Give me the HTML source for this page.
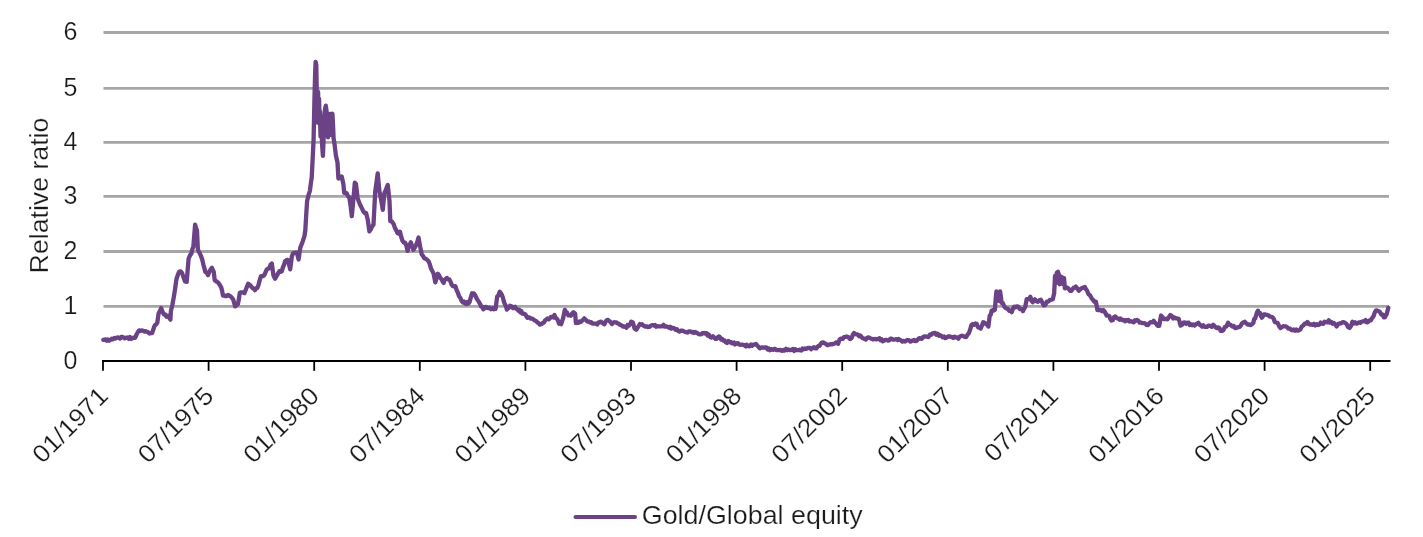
<!DOCTYPE html>
<html><head><meta charset="utf-8"><style>
html,body{margin:0;padding:0;background:#fff;}
body{width:1423px;height:537px;overflow:hidden;}
svg{display:block;}
.t{font-family:"Liberation Sans",Arial,sans-serif;font-size:25px;fill:#1a1a1a;stroke:#fff;stroke-width:0.22px;paint-order:fill;}
</style></head><body>
<svg width="1423" height="537" viewBox="0 0 1423 537">
<rect width="1423" height="537" fill="#fff"/>
<line x1="103.5" y1="306.40" x2="1389" y2="306.40" stroke="#a6a6a6" stroke-width="2.8"/>
<line x1="103.5" y1="251.50" x2="1389" y2="251.50" stroke="#a6a6a6" stroke-width="2.8"/>
<line x1="103.5" y1="196.40" x2="1389" y2="196.40" stroke="#a6a6a6" stroke-width="2.8"/>
<line x1="103.5" y1="142.40" x2="1389" y2="142.40" stroke="#a6a6a6" stroke-width="2.8"/>
<line x1="103.5" y1="88.30" x2="1389" y2="88.30" stroke="#a6a6a6" stroke-width="2.8"/>
<line x1="103.5" y1="32.50" x2="1389" y2="32.50" stroke="#a6a6a6" stroke-width="2.8"/>
<text x="77.5" y="368.60" text-anchor="end" class="t">0</text>
<text x="77.5" y="314.00" text-anchor="end" class="t">1</text>
<text x="77.5" y="259.10" text-anchor="end" class="t">2</text>
<text x="77.5" y="204.00" text-anchor="end" class="t">3</text>
<text x="77.5" y="150.00" text-anchor="end" class="t">4</text>
<text x="77.5" y="95.90" text-anchor="end" class="t">5</text>
<text x="77.5" y="40.10" text-anchor="end" class="t">6</text>
<line x1="102" y1="361.00" x2="1390.5" y2="361.00" stroke="#000" stroke-width="2.2"/>
<line x1="103.00" y1="361.00" x2="103.00" y2="370.8" stroke="#000" stroke-width="1.8"/>
<line x1="208.60" y1="361.00" x2="208.60" y2="370.8" stroke="#000" stroke-width="1.8"/>
<line x1="314.20" y1="361.00" x2="314.20" y2="370.8" stroke="#000" stroke-width="1.8"/>
<line x1="419.80" y1="361.00" x2="419.80" y2="370.8" stroke="#000" stroke-width="1.8"/>
<line x1="525.40" y1="361.00" x2="525.40" y2="370.8" stroke="#000" stroke-width="1.8"/>
<line x1="631.00" y1="361.00" x2="631.00" y2="370.8" stroke="#000" stroke-width="1.8"/>
<line x1="736.60" y1="361.00" x2="736.60" y2="370.8" stroke="#000" stroke-width="1.8"/>
<line x1="842.20" y1="361.00" x2="842.20" y2="370.8" stroke="#000" stroke-width="1.8"/>
<line x1="947.80" y1="361.00" x2="947.80" y2="370.8" stroke="#000" stroke-width="1.8"/>
<line x1="1053.40" y1="361.00" x2="1053.40" y2="370.8" stroke="#000" stroke-width="1.8"/>
<line x1="1159.00" y1="361.00" x2="1159.00" y2="370.8" stroke="#000" stroke-width="1.8"/>
<line x1="1264.60" y1="361.00" x2="1264.60" y2="370.8" stroke="#000" stroke-width="1.8"/>
<line x1="1370.20" y1="361.00" x2="1370.20" y2="370.8" stroke="#000" stroke-width="1.8"/>
<text x="0" y="0" text-anchor="end" class="t" transform="translate(109.50 397.50) rotate(-45) scale(1.05 1)">01/1971</text>
<text x="0" y="0" text-anchor="end" class="t" transform="translate(215.10 397.50) rotate(-45) scale(1.05 1)">07/1975</text>
<text x="0" y="0" text-anchor="end" class="t" transform="translate(320.70 397.50) rotate(-45) scale(1.05 1)">01/1980</text>
<text x="0" y="0" text-anchor="end" class="t" transform="translate(426.30 397.50) rotate(-45) scale(1.05 1)">07/1984</text>
<text x="0" y="0" text-anchor="end" class="t" transform="translate(531.90 397.50) rotate(-45) scale(1.05 1)">01/1989</text>
<text x="0" y="0" text-anchor="end" class="t" transform="translate(637.50 397.50) rotate(-45) scale(1.05 1)">07/1993</text>
<text x="0" y="0" text-anchor="end" class="t" transform="translate(743.10 397.50) rotate(-45) scale(1.05 1)">01/1998</text>
<text x="0" y="0" text-anchor="end" class="t" transform="translate(848.70 397.50) rotate(-45) scale(1.05 1)">07/2002</text>
<text x="0" y="0" text-anchor="end" class="t" transform="translate(954.30 397.50) rotate(-45) scale(1.05 1)">01/2007</text>
<text x="0" y="0" text-anchor="end" class="t" transform="translate(1059.90 397.50) rotate(-45) scale(1.05 1)">07/2011</text>
<text x="0" y="0" text-anchor="end" class="t" transform="translate(1165.50 397.50) rotate(-45) scale(1.05 1)">01/2016</text>
<text x="0" y="0" text-anchor="end" class="t" transform="translate(1271.10 397.50) rotate(-45) scale(1.05 1)">07/2020</text>
<text x="0" y="0" text-anchor="end" class="t" transform="translate(1376.70 397.50) rotate(-45) scale(1.05 1)">01/2025</text>
<text x="0" y="0" text-anchor="middle" class="t" transform="translate(48.2 195.5) rotate(-90) scale(1.068 1)">Relative ratio</text>
<path d="M103.3 339.9 L104.5 339.7 L105.6 339.4 L106.8 340.7 L107.9 339.5 L109.1 340.7 L110.4 339.9 L111.7 338.8 L113.0 339.4 L114.3 338.0 L115.6 338.5 L116.7 337.5 L117.9 337.3 L119.0 337.9 L120.1 338.6 L121.2 336.8 L122.4 336.9 L123.5 337.6 L124.8 338.4 L126.1 337.7 L127.4 337.5 L128.7 338.9 L130.0 337.0 L131.3 338.9 L132.6 337.8 L133.9 337.7 L135.2 337.8 L136.5 334.6 L137.8 332.2 L139.1 330.4 L140.4 330.8 L141.7 330.5 L143.0 330.6 L144.3 331.6 L145.6 331.2 L146.9 331.8 L148.2 332.3 L149.5 333.5 L150.8 333.1 L152.1 333.0 L153.1 330.3 L154.1 326.8 L155.2 324.9 L156.2 324.5 L157.3 322.7 L158.6 313.3 L159.9 311.1 L161.2 308.1 L162.5 311.8 L163.8 314.4 L165.1 314.3 L166.5 316.7 L167.8 315.7 L169.1 317.6 L170.4 319.7 L170.9 310.9 L172.3 305.2 L173.7 297.7 L175.1 288.9 L176.5 278.9 L177.9 274.7 L179.3 271.6 L180.7 271.3 L182.1 273.1 L183.5 277.1 L184.9 281.2 L186.7 281.9 L187.6 270.6 L188.6 258.8 L190.0 255.4 L191.4 253.5 L192.4 248.9 L193.3 247.0 L195.1 224.6 L196.1 228.2 L197.0 230.6 L197.9 249.8 L199.3 252.4 L200.7 255.4 L202.1 259.0 L203.5 265.1 L204.4 268.2 L205.3 271.9 L206.7 272.6 L208.1 275.1 L209.4 271.5 L210.6 269.6 L211.9 267.8 L213.7 271.6 L214.7 280.1 L215.9 281.2 L217.2 281.8 L218.4 282.8 L219.8 285.0 L221.2 287.4 L222.1 290.8 L223.0 295.7 L224.2 295.3 L225.5 296.1 L226.7 296.0 L228.0 294.9 L229.2 295.6 L230.5 296.3 L231.9 297.7 L233.3 299.7 L235.1 306.4 L236.5 305.2 L237.9 304.1 L238.9 299.0 L239.8 292.8 L241.2 292.3 L242.6 292.3 L243.5 292.6 L244.4 293.1 L245.8 289.7 L247.2 286.1 L248.2 283.7 L249.2 284.5 L250.4 285.5 L251.7 287.0 L252.8 288.2 L253.9 288.7 L255.0 290.1 L256.1 288.1 L257.3 287.9 L258.4 285.2 L259.6 280.6 L260.9 276.3 L262.0 275.9 L263.2 276.0 L264.3 275.1 L265.6 272.1 L266.8 269.4 L268.1 268.5 L269.3 268.3 L270.6 264.6 L271.8 263.5 L273.5 275.6 L275.1 278.7 L276.2 276.7 L277.4 274.7 L278.5 272.5 L279.6 271.1 L280.7 271.8 L281.8 271.3 L282.9 267.4 L284.1 264.6 L285.2 261.0 L286.4 260.2 L287.7 259.9 L288.9 263.9 L290.2 269.3 L291.9 256.1 L293.1 253.3 L294.4 252.8 L295.6 252.7 L296.9 252.7 L298.6 259.5 L300.3 247.5 L301.6 244.4 L302.8 241.2 L304.5 235.9 L305.3 230.4 L306.2 215.2 L307.1 201.1 L308.5 195.1 L309.9 190.8 L310.8 183.8 L311.7 177.8 L312.7 158.2 L313.6 139.4 L314.4 100.7 L315.2 71.1 L315.6 61.8 L316.3 64.7 L316.8 95.7 L317.2 122.5 L317.6 104.4 L318.1 92.0 L318.6 117.7 L319.1 99.0 L319.6 124.0 L320.0 111.5 L320.5 136.5 L321.4 128.4 L322.2 146.0 L322.9 155.9 L323.6 139.0 L324.3 116.1 L325.0 109.0 L325.8 105.7 L326.6 111.4 L327.3 127.4 L328.0 137.3 L328.6 121.3 L329.3 114.3 L330.0 113.9 L330.6 125.7 L331.2 135.0 L331.8 115.3 L332.4 113.7 L333.0 124.1 L333.6 138.4 L334.5 143.9 L335.9 155.6 L337.5 162.6 L338.4 178.5 L339.5 177.2 L340.6 178.0 L341.7 176.4 L343.4 184.2 L344.2 192.9 L345.4 192.5 L346.7 193.3 L348.0 196.2 L349.3 197.4 L350.9 207.9 L351.8 216.2 L353.4 199.4 L354.8 182.7 L356.0 184.2 L357.6 197.8 L358.9 201.8 L360.1 204.7 L361.8 208.1 L363.5 211.7 L364.8 212.9 L366.0 212.8 L367.7 219.2 L369.4 231.4 L371.0 229.0 L372.2 226.3 L373.5 224.7 L375.2 191.8 L376.4 183.1 L377.7 173.3 L379.4 191.3 L381.1 199.7 L382.8 209.8 L384.4 192.9 L385.5 190.9 L386.7 187.4 L387.8 185.0 L389.5 201.1 L390.3 221.2 L391.4 221.1 L392.5 222.5 L393.6 223.9 L394.9 227.9 L396.2 230.2 L397.4 233.0 L398.7 233.7 L400.0 231.8 L401.2 236.8 L402.5 240.7 L403.8 242.5 L405.1 242.7 L406.4 245.7 L407.6 250.9 L408.7 246.7 L409.8 244.5 L410.9 242.3 L412.1 246.1 L413.4 249.8 L414.7 247.7 L416.0 245.2 L417.2 242.4 L418.5 237.5 L420.2 246.9 L421.8 254.6 L422.9 255.8 L424.1 258.0 L425.2 258.5 L426.3 259.2 L427.4 260.2 L428.5 261.1 L429.8 264.3 L431.1 268.8 L432.4 271.1 L433.6 273.6 L435.3 282.4 L436.6 277.7 L437.8 273.7 L439.1 275.3 L440.3 278.0 L441.4 279.1 L442.5 281.2 L443.6 283.0 L444.7 279.8 L445.9 278.8 L447.0 278.0 L448.1 279.4 L449.2 279.5 L450.3 281.2 L451.6 284.4 L452.9 286.2 L454.1 286.5 L455.4 286.2 L456.6 290.0 L457.9 292.7 L459.1 296.3 L460.4 298.0 L461.6 300.9 L462.9 302.5 L464.0 301.6 L465.2 303.5 L466.3 304.0 L467.4 302.1 L468.5 303.4 L469.6 301.9 L470.9 297.1 L472.1 293.2 L472.6 293.5 L473.9 293.4 L475.1 295.2 L476.4 298.0 L477.7 300.1 L478.9 301.9 L480.2 304.2 L481.2 306.6 L482.3 306.6 L483.3 309.3 L484.3 308.4 L485.4 306.8 L486.4 306.8 L487.4 308.0 L488.5 308.2 L489.5 307.7 L491.0 309.3 L492.5 308.3 L493.5 309.2 L494.6 307.8 L495.6 308.7 L497.2 296.4 L498.4 295.5 L499.7 291.8 L500.7 292.9 L501.8 294.9 L502.8 297.3 L503.8 301.2 L504.8 304.1 L505.9 305.9 L506.9 309.6 L507.9 308.2 L509.0 307.7 L510.0 305.7 L511.5 306.2 L513.0 308.1 L514.0 307.5 L515.1 306.8 L516.1 308.7 L517.1 309.0 L518.2 310.4 L519.2 309.8 L520.2 312.2 L521.3 311.1 L522.3 313.6 L523.8 313.7 L525.3 314.4 L526.3 316.0 L527.4 317.8 L528.4 317.4 L529.4 317.4 L530.5 318.6 L531.5 318.3 L533.0 319.1 L534.5 320.3 L535.5 320.7 L536.6 321.7 L537.6 322.6 L538.6 323.1 L539.7 324.6 L540.7 324.1 L541.7 324.1 L542.8 322.8 L543.8 322.7 L545.0 320.4 L546.3 319.5 L547.6 318.4 L548.9 319.4 L549.9 318.3 L551.0 316.9 L552.0 316.8 L553.2 317.4 L554.5 315.0 L555.8 318.1 L557.1 318.8 L558.1 320.9 L559.1 323.7 L560.2 323.3 L561.2 324.1 L562.2 320.9 L563.2 318.0 L564.8 309.9 L565.8 311.7 L566.8 312.3 L568.4 315.4 L569.6 315.3 L570.9 315.7 L572.1 313.5 L573.4 312.2 L575.1 313.4 L575.9 323.2 L577.1 322.6 L578.4 322.8 L579.5 321.5 L580.7 322.0 L581.8 320.9 L583.0 319.9 L584.3 318.4 L585.5 319.6 L586.8 320.9 L587.9 321.7 L589.0 321.5 L590.1 322.6 L591.2 322.2 L592.4 323.7 L593.5 323.7 L594.8 323.6 L596.0 323.7 L597.2 324.5 L598.5 322.3 L599.6 322.4 L600.8 321.6 L601.9 322.4 L603.1 323.4 L604.4 324.3 L605.6 321.5 L606.9 320.1 L608.1 319.9 L609.4 321.3 L610.6 322.1 L611.9 324.1 L613.0 322.8 L614.2 322.2 L615.3 322.3 L616.4 322.4 L617.5 323.4 L618.6 323.6 L619.7 324.6 L620.9 325.0 L622.0 325.7 L623.1 326.7 L624.3 326.4 L625.4 326.9 L626.5 327.7 L627.6 325.1 L628.7 325.7 L630.0 324.3 L631.2 321.7 L632.9 322.5 L634.6 328.6 L636.2 329.7 L637.5 327.8 L638.8 325.9 L639.9 324.1 L641.0 324.7 L642.1 324.3 L643.2 325.6 L644.4 326.1 L645.5 326.7 L646.6 326.3 L647.7 327.1 L648.8 326.8 L649.8 326.7 L650.9 325.6 L652.0 325.1 L653.0 325.2 L654.0 325.7 L655.1 325.1 L656.2 326.7 L657.2 326.1 L658.6 326.3 L660.0 326.3 L661.4 326.4 L662.5 326.0 L663.5 324.9 L664.5 326.7 L665.6 326.5 L666.7 326.4 L667.9 326.9 L669.0 327.7 L670.1 326.7 L671.2 328.6 L672.3 328.0 L673.4 327.9 L674.5 328.6 L675.6 329.9 L676.8 329.2 L678.0 330.7 L679.2 331.6 L680.6 330.7 L682.0 330.6 L683.4 331.0 L684.5 331.7 L685.5 332.2 L686.5 332.2 L687.6 332.6 L688.7 331.3 L689.8 331.3 L690.8 331.5 L691.9 332.4 L693.0 331.9 L694.0 332.8 L695.0 332.0 L696.1 332.5 L697.5 333.2 L698.9 334.2 L700.3 334.4 L701.3 334.2 L702.4 333.1 L703.5 333.4 L704.5 333.0 L705.5 333.6 L706.6 333.3 L707.7 335.5 L708.7 334.5 L710.1 337.0 L711.5 337.6 L712.9 336.2 L714.2 337.7 L715.5 338.9 L716.6 338.8 L717.7 337.2 L718.8 336.4 L719.9 337.1 L721.1 339.6 L722.2 338.9 L723.3 340.5 L724.5 340.4 L725.6 342.1 L727.0 342.9 L728.4 340.9 L729.8 342.3 L730.8 342.0 L731.9 343.3 L733.0 343.2 L734.0 342.6 L735.0 344.4 L736.1 343.8 L737.2 343.1 L738.2 343.4 L739.3 344.7 L740.4 344.8 L741.4 344.7 L742.5 344.6 L743.5 345.2 L744.6 345.2 L745.7 346.4 L746.7 344.7 L748.1 346.2 L749.5 346.3 L750.9 344.6 L752.0 345.8 L753.2 344.7 L754.3 344.6 L755.9 344.0 L757.2 345.5 L758.5 346.8 L759.8 348.3 L761.0 347.6 L762.2 347.4 L763.5 347.7 L764.5 347.6 L765.6 347.3 L766.7 347.6 L767.7 349.4 L768.8 348.6 L769.9 350.3 L770.9 349.1 L772.0 349.5 L773.0 349.8 L774.1 348.9 L775.2 349.0 L776.2 350.1 L777.6 350.1 L779.0 350.1 L780.4 349.9 L781.5 350.6 L782.5 350.8 L783.5 350.0 L784.6 350.5 L786.0 348.9 L787.4 350.2 L788.8 349.5 L789.9 350.2 L791.0 350.1 L792.0 349.4 L793.1 348.9 L794.2 350.9 L795.6 349.3 L797.0 350.2 L798.4 350.1 L799.5 349.6 L800.5 350.3 L801.5 350.5 L802.6 348.6 L803.7 349.3 L804.8 348.5 L805.8 348.9 L806.9 348.5 L808.0 347.9 L809.0 347.8 L810.0 347.8 L811.1 349.2 L812.5 348.0 L813.9 347.2 L815.3 348.4 L816.3 348.4 L817.4 346.9 L818.5 346.0 L819.5 345.9 L820.8 343.8 L822.0 342.5 L823.1 342.3 L824.3 343.1 L825.4 343.6 L826.5 344.4 L827.5 345.2 L828.5 344.9 L829.6 344.3 L831.0 344.2 L832.4 344.3 L833.8 343.8 L834.9 343.4 L836.0 342.5 L837.0 342.6 L838.1 343.8 L839.4 339.9 L840.6 338.6 L841.7 338.6 L842.9 338.9 L844.0 337.2 L845.1 337.0 L846.2 336.6 L847.3 336.7 L848.4 337.2 L849.6 338.8 L850.7 339.0 L851.8 337.6 L853.0 334.3 L854.1 333.0 L855.4 334.2 L856.6 334.4 L857.9 334.7 L859.1 336.3 L860.2 335.4 L861.4 336.7 L862.5 338.2 L863.6 338.4 L864.8 338.9 L865.9 339.6 L867.0 337.9 L868.0 337.5 L869.0 337.5 L870.1 338.2 L871.5 338.7 L872.9 339.4 L874.3 339.1 L875.3 339.0 L876.4 339.4 L877.5 338.8 L878.5 339.1 L879.5 338.3 L880.6 340.3 L881.7 339.4 L882.7 341.2 L883.8 340.7 L884.9 340.1 L885.9 339.8 L887.0 340.2 L888.0 340.7 L889.1 340.5 L890.2 338.9 L891.2 338.6 L892.6 339.6 L894.0 339.7 L895.4 339.3 L896.5 339.1 L897.5 340.1 L898.5 339.0 L899.6 339.9 L901.0 340.3 L902.4 341.6 L903.8 341.0 L905.1 341.5 L906.4 340.6 L907.6 340.1 L908.9 340.1 L910.2 341.6 L911.5 341.2 L912.8 340.5 L914.1 340.0 L915.4 341.2 L916.7 340.7 L918.0 339.3 L919.3 338.1 L920.6 338.6 L921.9 338.9 L923.2 337.0 L924.5 336.3 L925.8 336.7 L927.2 336.7 L928.5 337.1 L929.8 334.7 L931.1 334.8 L932.4 333.3 L933.7 333.1 L935.0 332.8 L936.3 334.8 L937.6 333.7 L938.9 335.7 L940.2 335.2 L941.5 336.1 L942.8 337.4 L944.1 336.5 L945.4 338.1 L946.7 337.3 L948.0 336.5 L949.3 336.4 L950.6 336.7 L951.9 337.1 L953.2 338.0 L954.5 336.6 L955.8 337.4 L957.1 337.4 L958.4 338.7 L959.7 336.6 L961.0 336.0 L962.3 335.7 L963.6 336.2 L964.9 337.1 L966.2 336.8 L967.5 334.6 L968.8 333.2 L970.1 329.8 L971.4 325.2 L972.7 324.0 L974.1 324.8 L975.4 323.5 L976.7 323.9 L978.0 327.3 L979.3 327.6 L980.6 328.6 L981.9 325.6 L983.2 322.3 L984.5 322.6 L985.8 323.8 L987.1 324.6 L988.4 326.6 L989.7 315.7 L990.7 314.9 L991.6 310.7 L992.7 310.2 L993.8 310.5 L994.9 309.7 L995.7 298.9 L996.4 291.5 L997.3 298.9 L998.2 292.7 L999.2 300.9 L1000.1 291.3 L1000.9 296.7 L1001.6 302.9 L1002.8 303.0 L1004.0 305.9 L1005.3 307.7 L1006.6 308.6 L1007.9 308.9 L1009.2 310.9 L1010.5 310.6 L1011.8 312.2 L1013.1 308.2 L1014.4 306.6 L1015.8 307.3 L1017.1 306.3 L1018.4 306.8 L1019.7 309.0 L1020.8 309.1 L1021.9 309.2 L1023.0 311.1 L1024.1 308.7 L1025.2 307.1 L1026.7 299.1 L1027.9 299.5 L1029.2 298.6 L1030.4 296.8 L1031.6 300.8 L1032.7 302.2 L1033.8 300.8 L1034.9 299.4 L1036.4 301.2 L1037.9 301.9 L1039.3 300.3 L1040.8 299.7 L1042.3 302.6 L1043.8 305.4 L1045.3 304.8 L1046.8 301.7 L1048.3 301.6 L1049.8 300.0 L1051.3 299.8 L1052.8 299.3 L1054.2 293.0 L1055.0 276.0 L1055.8 283.6 L1056.8 272.7 L1058.0 271.8 L1059.0 275.1 L1059.8 284.3 L1060.8 276.6 L1062.0 277.4 L1063.0 284.0 L1064.0 278.0 L1064.9 288.4 L1066.2 287.2 L1067.6 287.9 L1068.9 289.1 L1070.1 290.9 L1071.4 290.8 L1072.5 289.1 L1073.6 287.8 L1074.7 287.4 L1075.8 286.6 L1077.3 288.6 L1078.8 290.7 L1079.9 289.6 L1081.0 288.6 L1082.3 287.9 L1083.5 287.4 L1084.8 286.9 L1085.9 289.1 L1087.0 290.5 L1088.5 294.2 L1090.0 295.2 L1091.5 298.1 L1093.0 299.9 L1094.5 301.8 L1095.9 301.7 L1097.4 310.0 L1098.9 310.0 L1100.4 309.8 L1101.9 311.1 L1103.4 310.1 L1104.5 311.4 L1105.6 313.4 L1106.8 315.7 L1108.1 315.6 L1109.3 316.0 L1110.4 319.1 L1111.6 320.6 L1112.8 320.1 L1114.1 317.0 L1115.3 316.5 L1116.8 318.1 L1118.3 318.8 L1119.4 319.7 L1120.5 318.5 L1121.6 319.8 L1122.7 320.2 L1123.8 320.0 L1125.0 321.3 L1126.1 320.1 L1127.2 320.5 L1128.3 319.9 L1129.5 321.5 L1130.6 321.1 L1131.7 321.3 L1132.8 322.2 L1133.9 322.3 L1135.0 320.2 L1136.0 320.6 L1136.9 320.0 L1138.3 320.7 L1139.7 322.6 L1141.1 322.6 L1142.5 323.2 L1143.8 323.1 L1145.2 323.6 L1146.6 324.9 L1148.0 325.0 L1149.4 323.0 L1150.8 322.1 L1152.2 322.4 L1153.6 320.8 L1155.0 322.7 L1156.4 324.1 L1157.8 325.9 L1159.2 325.8 L1160.2 320.1 L1161.1 315.5 L1162.0 316.7 L1162.9 317.5 L1163.8 319.1 L1164.8 319.2 L1166.2 318.7 L1167.6 319.2 L1169.0 317.0 L1170.4 315.0 L1171.8 316.0 L1173.2 318.4 L1174.6 317.4 L1176.0 318.4 L1177.4 318.4 L1178.8 319.0 L1180.6 325.6 L1182.0 324.9 L1183.4 322.6 L1184.7 322.4 L1185.9 323.7 L1187.2 322.7 L1188.4 322.6 L1189.7 324.9 L1190.9 324.1 L1192.1 325.2 L1193.4 324.4 L1194.6 325.6 L1195.8 324.4 L1197.1 323.5 L1198.3 322.8 L1199.6 324.6 L1200.8 325.4 L1202.1 326.6 L1203.3 325.3 L1204.6 326.9 L1205.8 326.8 L1207.0 326.8 L1208.3 325.7 L1209.5 325.7 L1210.7 326.1 L1212.0 326.8 L1213.2 324.8 L1214.5 326.1 L1215.7 327.3 L1217.0 328.1 L1218.2 327.4 L1219.5 328.1 L1220.7 330.9 L1222.1 330.9 L1223.5 329.9 L1224.9 326.8 L1226.3 326.6 L1228.1 322.7 L1229.5 324.7 L1231.0 325.1 L1232.3 326.5 L1233.7 326.0 L1235.1 328.2 L1236.5 327.9 L1237.9 327.1 L1239.3 327.0 L1240.7 325.8 L1242.1 323.2 L1243.5 322.3 L1244.9 321.8 L1246.3 323.4 L1247.7 324.5 L1249.1 324.4 L1250.5 325.1 L1251.9 324.3 L1253.3 322.9 L1254.2 319.1 L1255.2 318.4 L1257.0 312.4 L1258.0 310.7 L1259.0 313.4 L1259.9 312.9 L1260.9 315.9 L1261.9 317.7 L1262.9 316.4 L1263.9 314.3 L1265.3 314.5 L1266.8 314.9 L1268.3 315.3 L1269.8 316.5 L1271.2 316.8 L1272.7 317.5 L1273.7 318.6 L1274.7 321.9 L1276.2 322.5 L1277.6 322.9 L1279.1 326.1 L1280.6 328.1 L1281.9 327.1 L1283.2 326.1 L1284.5 326.4 L1285.8 326.4 L1287.2 327.3 L1288.5 328.7 L1289.8 328.5 L1291.1 329.8 L1292.4 330.4 L1293.7 329.4 L1295.0 330.7 L1296.3 329.5 L1297.6 330.6 L1299.0 330.3 L1300.3 329.4 L1301.8 326.5 L1303.2 325.5 L1304.7 323.7 L1306.2 323.5 L1307.5 322.0 L1308.8 324.0 L1310.1 324.6 L1311.4 324.3 L1312.7 324.9 L1314.0 323.8 L1315.3 325.4 L1316.7 324.1 L1318.0 325.0 L1319.3 324.6 L1320.6 322.6 L1321.9 323.6 L1323.2 323.8 L1324.5 321.7 L1325.8 322.2 L1327.3 322.4 L1328.8 320.3 L1330.1 322.6 L1331.4 321.9 L1332.7 323.7 L1334.0 323.0 L1335.4 324.7 L1336.7 326.4 L1338.2 324.1 L1339.6 323.5 L1341.1 323.3 L1342.6 322.1 L1343.9 322.1 L1345.2 323.1 L1346.5 323.8 L1348.0 327.0 L1349.5 327.9 L1351.0 325.9 L1352.4 321.8 L1353.7 323.5 L1355.0 322.3 L1356.3 323.6 L1357.6 323.3 L1359.0 322.3 L1360.3 322.9 L1361.6 321.7 L1362.9 321.3 L1364.2 321.4 L1365.5 320.1 L1366.8 322.4 L1368.1 321.9 L1369.4 320.4 L1370.8 320.3 L1372.1 318.1 L1373.5 316.2 L1375.0 311.9 L1376.0 310.4 L1377.0 310.4 L1378.5 311.1 L1379.9 312.0 L1381.4 314.7 L1382.9 314.7 L1383.9 317.4 L1384.9 317.1 L1385.8 315.5 L1386.8 313.8 L1388.3 307.8" fill="none" stroke="#6a4285" stroke-width="4.3" stroke-linejoin="round" stroke-linecap="round"/>
<line x1="575.5" y1="517" x2="635" y2="517" stroke="#6a4285" stroke-width="4" stroke-linecap="round"/>
<text x="0" y="0" class="t" transform="translate(641.8 523.7) scale(1.074 1)">Gold/Global equity</text>
</svg>
</body></html>
